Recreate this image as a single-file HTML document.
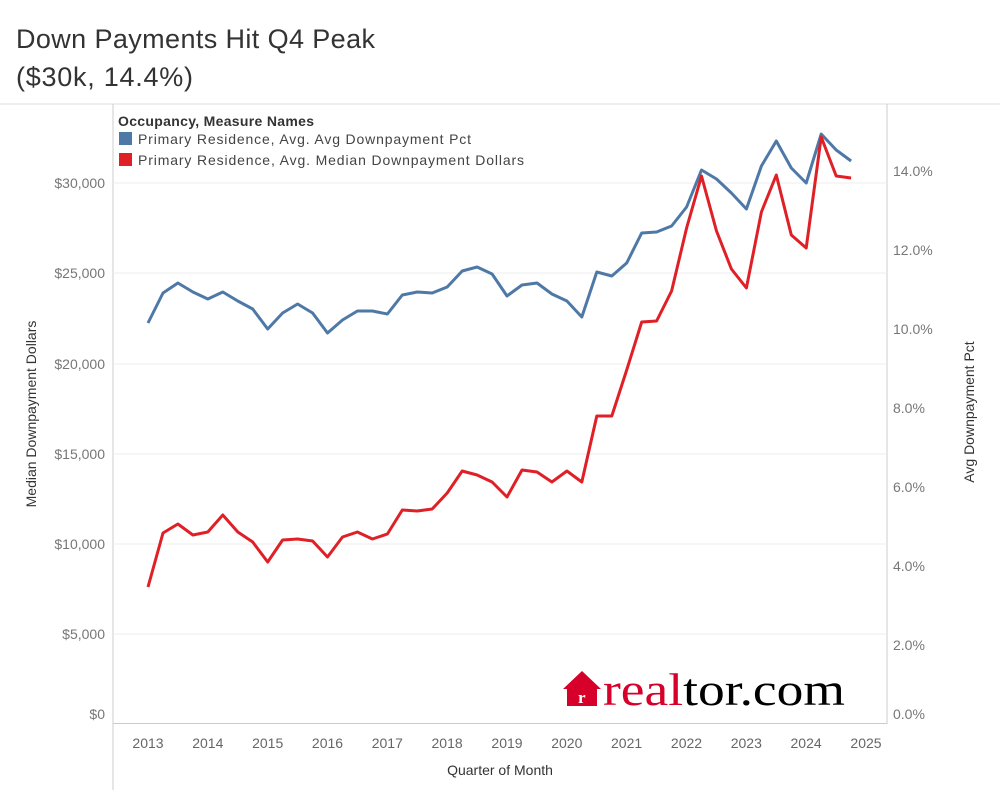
<!DOCTYPE html>
<html><head><meta charset="utf-8"><style>
body{margin:0;background:#fff;font-family:"Liberation Sans",sans-serif}
</style></head><body>
<svg id="s" width="1000" height="800" xmlns="http://www.w3.org/2000/svg" font-family="Liberation Sans, sans-serif">
<text x="16" y="48" font-size="27" fill="#333" textLength="359">Down Payments Hit Q4 Peak</text>
<text x="16" y="86" font-size="27" fill="#333" textLength="177">($30k, 14.4%)</text>
<line x1="0" y1="104" x2="1000" y2="104" stroke="#ddd"/>
<line x1="113" y1="104" x2="113" y2="790" stroke="#ccc"/>
<line x1="887" y1="104" x2="887" y2="724" stroke="#ccc"/>
<line x1="113" y1="723.5" x2="887" y2="723.5" stroke="#ccc"/>
<g stroke="#eee">
<line x1="113" y1="183" x2="887" y2="183"/><line x1="113" y1="273" x2="887" y2="273"/>
<line x1="113" y1="364" x2="887" y2="364"/><line x1="113" y1="454" x2="887" y2="454"/>
<line x1="113" y1="544" x2="887" y2="544"/><line x1="113" y1="634" x2="887" y2="634"/>
</g>
<g font-size="14" fill="#777" text-anchor="end">
<text x="105" y="188">$30,000</text><text x="105" y="278">$25,000</text><text x="105" y="369">$20,000</text>
<text x="105" y="459">$15,000</text><text x="105" y="549">$10,000</text><text x="105" y="639">$5,000</text><text x="105" y="719">$0</text>
</g>
<g font-size="14" fill="#777">
<text x="893" y="176">14.0%</text><text x="893" y="255">12.0%</text><text x="893" y="334">10.0%</text>
<text x="893" y="413">8.0%</text><text x="893" y="492">6.0%</text><text x="893" y="571">4.0%</text>
<text x="893" y="650">2.0%</text><text x="893" y="719">0.0%</text>
</g>
<g font-size="14" fill="#666" text-anchor="middle" id="xl"></g>
<text x="500" y="775" font-size="14" fill="#333" text-anchor="middle">Quarter of Month</text>
<text transform="translate(36,414) rotate(-90)" font-size="14" fill="#333" text-anchor="middle">Median Downpayment Dollars</text>
<text transform="translate(974,412) rotate(-90)" font-size="14" fill="#333" text-anchor="middle">Avg Downpayment Pct</text>
<text x="118" y="126" font-size="14" font-weight="bold" fill="#333" textLength="196">Occupancy, Measure Names</text>
<rect x="119" y="132" width="13" height="13" fill="#4e79a7"/>
<text x="138" y="144" font-size="14" fill="#444" textLength="333">Primary Residence, Avg. Avg Downpayment Pct</text>
<rect x="119" y="153" width="13" height="13" fill="#e02027"/>
<text x="138" y="165" font-size="14" fill="#444" textLength="386">Primary Residence, Avg. Median Downpayment Dollars</text>
<polyline id="b" fill="none" stroke="#4e79a7" stroke-width="3" stroke-linejoin="round"/>
<polyline id="r" fill="none" stroke="#e02027" stroke-width="3" stroke-linejoin="round"/>
<path d="M563 689 L582 671 L601 689 L597 689 L597 706 L567 706 L567 689 Z" fill="#d6002a"/>
<text x="578" y="703" font-size="17" font-family="Liberation Serif, serif" font-weight="bold" fill="#fff">r</text>
<text x="603" y="705" font-size="46" font-family="Liberation Serif, serif" fill="#d6002a" textLength="242" lengthAdjust="spacingAndGlyphs">real<tspan fill="#000">tor.com</tspan></text>
</svg>
<script>
var b=[323,293,283,292,299,292,301,309,329,313,304,313,333,320,311,311,314,295,292,293,287,271,267,274,296,285,283,294,301,317,272,276,263,233,232,226,207,170,179,193,209,166,141,168,183,134,150,161];
var r=[587,533,524,535,532,515,532,542,562,540,539,541,557,537,532,539,534,510,511,509,493,471,475,482,497,470,472,482,471,482,416,416,370,322,321,291,228,176,231,269,288,212,175,235,248,137,176,178];
function p(a){return a.map(function(y,i){return (148+i*14.96).toFixed(1)+","+y}).join(" ")}
document.getElementById("b").setAttribute("points",p(b));
document.getElementById("r").setAttribute("points",p(r));
var g=document.getElementById("xl"),h="";
for(var i=0;i<=12;i++){h+='<text x="'+(148+i*59.83).toFixed(1)+'" y="748">'+(2013+i)+'</text>';}
g.innerHTML=h;
</script>
</body></html>
